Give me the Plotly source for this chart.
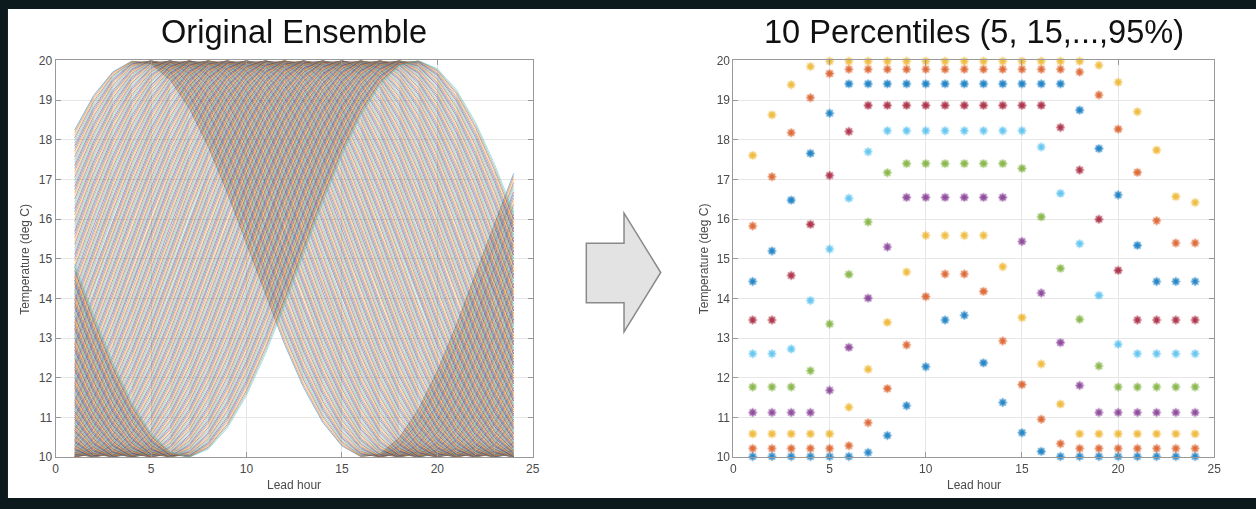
import numpy as np
import plotly.graph_objects as go

W, H = 1256, 509

# ---------------------------------------------------------------- data
lead_hour = list(range(1, 25))

# Ensemble: diurnal temperature cycles that differ only in the hour of the peak
ens_mean = 15.0
ens_amplitude = 5.0
ens_period = 24.0
peak_hour_earliest = 4.3
peak_hour_latest = 18.9
n_members = 230

# Percentiles of the ensemble at each lead hour (5, 15, ..., 95 %)
pct_labels = ["5%", "15%", "25%", "35%", "45%", "55%", "65%", "75%", "85%", "95%"]
p05 = [10.02, 10.02, 10.02, 10.02, 10.02, 10.02, 10.12, 10.55, 11.30, 12.28, 13.46, 13.58,
       12.38, 11.38, 10.62, 10.15, 10.02, 10.02, 10.02, 10.02, 10.02, 10.02, 10.02, 10.02]
p15 = [10.22, 10.22, 10.22, 10.22, 10.22, 10.29, 10.87, 11.73, 12.83, 14.05, 14.62, 14.62,
       14.18, 12.93, 11.83, 10.96, 10.34, 10.22, 10.22, 10.22, 10.22, 10.22, 10.22, 10.22]
p25 = [10.59, 10.59, 10.59, 10.59, 10.59, 11.26, 12.22, 13.40, 14.67, 15.59, 15.59, 15.59,
       15.59, 14.80, 13.52, 12.35, 11.34, 10.59, 10.59, 10.59, 10.59, 10.59, 10.59, 10.59]
p35 = [11.13, 11.13, 11.13, 11.13, 11.69, 12.77, 14.01, 15.30, 16.55, 16.55, 16.55, 16.55,
       16.55, 16.55, 15.44, 14.14, 12.89, 11.81, 11.13, 11.13, 11.13, 11.13, 11.13, 11.13]
p45 = [11.77, 11.77, 11.77, 12.18, 13.36, 14.61, 15.93, 17.17, 17.40, 17.40, 17.40, 17.40,
       17.40, 17.40, 17.28, 16.06, 14.76, 13.48, 12.30, 11.77, 11.77, 11.77, 11.77, 11.77]
p55 = [12.61, 12.61, 12.73, 13.95, 15.25, 16.53, 17.70, 18.23, 18.23, 18.23, 18.23, 18.23,
       18.23, 18.23, 18.23, 17.82, 16.65, 15.38, 14.08, 12.85, 12.61, 12.61, 12.61, 12.61]
p65 = [13.46, 13.46, 14.58, 15.87, 17.10, 18.21, 18.87, 18.87, 18.87, 18.87, 18.87, 18.87,
       18.87, 18.87, 18.87, 18.87, 18.31, 17.24, 16.00, 14.71, 13.46, 13.46, 13.46, 13.46]
p75 = [14.43, 15.20, 16.48, 17.66, 18.67, 19.41, 19.41, 19.41, 19.41, 19.41, 19.41, 19.41,
       19.41, 19.41, 19.41, 19.41, 19.41, 18.75, 17.78, 16.61, 15.34, 14.43, 14.43, 14.43]
p85 = [15.83, 17.07, 18.18, 19.06, 19.67, 19.78, 19.78, 19.78, 19.78, 19.78, 19.78, 19.78,
       19.78, 19.78, 19.78, 19.78, 19.78, 19.71, 19.13, 18.27, 17.18, 15.96, 15.40, 15.40]
p95 = [17.61, 18.63, 19.39, 19.85, 19.98, 19.98, 19.98, 19.98, 19.98, 19.98, 19.98, 19.98,
       19.98, 19.98, 19.98, 19.98, 19.98, 19.98, 19.88, 19.45, 18.71, 17.74, 16.57, 16.42]
percentiles = [p05, p15, p25, p35, p45, p55, p65, p75, p85, p95]

x_ticks = [0, 5, 10, 15, 20, 25]
y_ticks = list(range(10, 21))

# ---------------------------------------------------------------- style
color_order = ["#0072BD", "#D95319", "#EDB120", "#7E2F8E", "#77AC30", "#4DBEEE", "#A2142F"]
FONT = "Liberation Sans, Arial, Helvetica, sans-serif"
frame_col = "#999999"
grid_col = "#e6e6e6"
label_col = "#4a4a4a"


def px_x(x):
    return x / W


def px_y(y):
    return 1 - y / H


ax_top, ax_bot = 55, 463
left_dom = [px_x(53), px_x(534)]
right_dom = [px_x(736.3), px_x(1221)]
y_dom = [px_y(ax_bot), px_y(ax_top)]

fig = go.Figure()

# Left panel: every ensemble member as its own thin line
hours = np.array(lead_hour, dtype=float)
peaks = np.linspace(peak_hour_earliest, peak_hour_latest, n_members)
for i, pk in enumerate(peaks):
    temp = ens_mean + ens_amplitude * np.cos(2 * np.pi * (hours - pk) / ens_period)
    fig.add_trace(go.Scatter(
        x=lead_hour, y=temp, mode="lines",
        line=dict(color=color_order[i % 7], width=1.0),
        opacity=0.5, hoverinfo="skip", showlegend=False,
        xaxis="x", yaxis="y",
    ))

# Right panel: percentile markers
for k, (lab, vals) in enumerate(zip(pct_labels, percentiles)):
    c = color_order[k % 7]
    fig.add_trace(go.Scatter(
        x=lead_hour, y=vals, mode="markers", name=lab,
        marker=dict(symbol="asterisk-open", size=7, color=c,
                    line=dict(color=c, width=1.6)),
        opacity=0.85, cliponaxis=False, showlegend=False,
        xaxis="x2", yaxis="y2",
    ))

axis_common = dict(
    showgrid=True, gridcolor=grid_col, gridwidth=1,
    showline=True, linecolor=frame_col, linewidth=1, mirror="ticks",
    ticks="inside", ticklen=5, tickcolor=frame_col, tickwidth=1,
    zeroline=False, tickfont=dict(family=FONT, size=12, color=label_col),
)

fig.update_layout(
    width=W, height=H,
    margin=dict(l=0, r=0, t=0, b=0),
    paper_bgcolor="#0c1a1d",
    plot_bgcolor="white",
    xaxis=dict(domain=left_dom, range=[0, 25], tickvals=x_ticks, anchor="y", **axis_common),
    yaxis=dict(domain=y_dom, range=[10, 20], tickvals=y_ticks, anchor="x", **axis_common),
    xaxis2=dict(domain=right_dom, range=[0, 25], tickvals=x_ticks, anchor="y2", **axis_common),
    yaxis2=dict(domain=y_dom, range=[10, 20], tickvals=y_ticks, anchor="x2", **axis_common),
)

# White slide background
shapes = [dict(type="rect", xref="paper", yref="paper", layer="below",
               x0=px_x(5), x1=1.01, y0=px_y(505), y1=px_y(2),
               fillcolor="white", line=dict(width=0))]

# Block arrow between the panels
arrow_pts = [(588, 243), (626, 243), (626, 212), (663, 273), (626, 334), (626, 304), (588, 304)]
path = "M " + " L ".join(f"{px_x(a):.5f},{px_y(b):.5f}" for a, b in arrow_pts) + " Z"
shapes.append(dict(type="path", xref="paper", yref="paper", path=path,
                   fillcolor="#e3e3e3", line=dict(color="#8a8a8a", width=1.5)))
fig.update_layout(shapes=shapes)

left_c = (left_dom[0] + left_dom[1]) / 2
right_c = (right_dom[0] + right_dom[1]) / 2
ann = []
for cx, title, ylab_x in [(left_c, "Original Ensemble", 22), (right_c, "10 Percentiles (5, 15,...,95%)", 706)]:
    ann.append(dict(x=cx, y=px_y(25), xref="paper", yref="paper", text=title,
                    showarrow=False, xanchor="center", yanchor="middle",
                    font=dict(family=FONT, size=32.6, color="#111111")))
    ann.append(dict(x=cx, y=px_y(492), xref="paper", yref="paper", text="Lead hour",
                    showarrow=False, xanchor="center", yanchor="middle",
                    font=dict(family=FONT, size=12, color=label_col)))
    ann.append(dict(x=px_x(ylab_x), y=px_y(259), xref="paper", yref="paper",
                    text="Temperature (deg C)", textangle=-90,
                    showarrow=False, xanchor="center", yanchor="middle",
                    font=dict(family=FONT, size=12, color=label_col)))
fig.update_layout(annotations=ann)

fig.write_html("out.html")
